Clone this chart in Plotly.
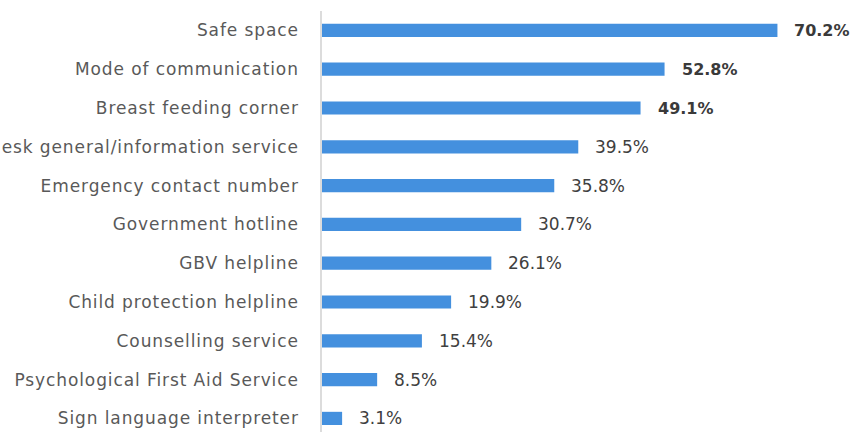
import plotly.graph_objects as go

# Services, listed bottom to top
services = [
    "Sign language interpreter",
    "Psychological First Aid Service",
    "Counselling service",
    "Child protection helpline",
    "GBV helpline",
    "Government hotline",
    "Emergency contact number",
    "Help desk general/information service",
    "Breast feeding corner",
    "Mode of communication",
    "Safe space",
]
shares = [3.1, 8.5, 15.4, 19.9, 26.1, 30.7, 35.8, 39.5, 49.1, 52.8, 70.2]
highlighted = ["Safe space", "Mode of communication", "Breast feeding corner"]

BAR_COLOR = "#4490DE"
FONT = "DejaVu Sans"

fig = go.Figure(
    go.Bar(
        x=shares,
        y=services,
        orientation="h",
        marker=dict(color=BAR_COLOR, line=dict(width=0)),
        hoverinfo="skip",
    )
)

# Value labels to the right of each bar; top three in bold
for name, val in zip(services, shares):
    bold = name in highlighted
    fig.add_annotation(
        x=val,
        y=name,
        xref="x",
        yref="y",
        text=f"<b>{val:.1f}%</b>" if bold else f"{val:.1f}%",
        showarrow=False,
        xanchor="left",
        yanchor="middle",
        xshift=15,
        font=dict(family=FONT, size=16 if bold else 17,
                  color="#3a3a3a" if bold else "#404040"),
    )

fig.update_layout(
    width=854,
    height=432,
    margin=dict(l=322, r=0, t=11, b=0),
    paper_bgcolor="white",
    plot_bgcolor="white",
    bargap=0.66,
    showlegend=False,
    font=dict(family=FONT),
)
fig.update_xaxes(
    range=[0, 82],
    visible=False,
    showgrid=False,
    zeroline=False,
)
fig.update_yaxes(
    categoryorder="array",
    categoryarray=services,
    range=[-0.35, 10.5],
    showgrid=False,
    zeroline=False,
    showline=True,
    linecolor="#dcdcdc",
    linewidth=1.5,
    ticks="",
    ticklabelstandoff=18,
    tickfont=dict(family=FONT, size=17, color="#595959"),
    automargin=False,
)

# Slightly open letter spacing on the category labels
spacing_css = (
    "var s=document.createElement('style');"
    "s.textContent='.ytick text{letter-spacing:0.9px}';"
    "document.head.appendChild(s);"
)

fig.write_html("out.html", post_script=spacing_css)
